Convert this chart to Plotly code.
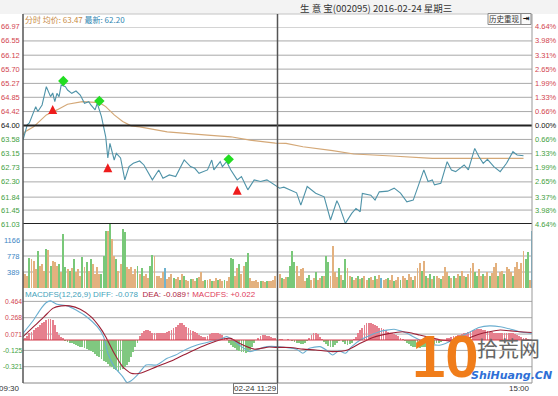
import plotly.graph_objects as go

# ---------------- data ----------------
title_text = "生 意 宝(002095) 2016-02-24 星期三"
prev_close = 64.00
avg_now, last_now = 63.47, 62.20
diff_now, dea_now, macd_now = -0.078, -0.089, 0.022
cross_i = 120
cross_label = "02-24 11:29"

price_labels = ["66.97", "66.55", "66.12", "65.70", "65.27", "64.85", "64.42", "64.00",
                "63.58", "63.15", "62.73", "62.30", "61.84", "61.45", "61.03"]
pct_labels = ["4.64%", "3.98%", "3.31%", "2.65%", "1.99%", "1.33%", "0.66%", "0.00%",
              "0.66%", "1.33%", "1.99%", "2.65%", "3.37%", "3.98%", "4.64%"]
vol_ticks = [389, 778, 1166]
macd_ticks = [0.464, 0.268, 0.071, -0.125, -0.321]

# minute slot index (0 = 09:30, 240 = 15:00) and price
price_t = [0, 2, 3, 6, 7, 9, 11, 12, 13, 14, 15, 16, 17, 18, 20, 21, 23, 25, 27, 29, 31, 32, 34, 35,
           37, 39, 40, 41, 43, 44, 46, 48, 50, 52, 55, 57, 61, 64, 66, 69, 72, 76, 79, 81, 83, 87,
           89, 90, 93, 94, 96, 98, 101, 103, 106, 109, 112, 115, 119, 121, 123, 126, 129, 131,
           134, 138, 142, 145, 148, 149, 152, 155, 157, 159, 160, 164, 166, 168, 172, 175, 178,
           181, 184, 186, 189, 191, 193, 194, 197, 200, 202, 204, 208, 210, 213, 215, 217, 219,
           222, 225, 228, 231, 233, 236]
price = [63.56, 64.02, 64.08, 64.57, 64.42, 64.62, 65.17, 65.02, 64.87, 64.98, 64.72, 64.97, 64.87,
         65.22, 65.17, 65.07, 64.97, 65.04, 64.92, 64.67, 64.72, 64.62, 64.47, 64.67, 64.27, 63.66,
         63.02, 63.46, 62.96, 63.16, 63.02, 62.36, 62.76, 62.86, 62.93, 62.81, 62.36, 62.66, 62.41,
         62.51, 62.46, 62.96, 62.76, 62.71, 62.56, 62.66, 62.96, 62.66, 62.91, 62.76, 62.91, 62.66,
         62.36, 62.46, 62.06, 62.36, 62.31, 62.36, 62.20, 62.11, 62.14, 62.06, 61.97, 61.60, 62.16,
         61.96, 61.85, 61.15, 61.73, 61.60, 61.05, 61.35, 61.50, 61.40, 61.95, 61.90, 61.75, 62.00,
         62.02, 62.11, 61.96, 61.70, 61.75, 62.11, 62.66, 62.31, 62.36, 62.21, 62.26, 62.91, 62.66,
         62.61, 62.81, 62.66, 63.31, 63.06, 62.86, 62.98, 62.76, 62.61, 62.86, 63.21, 63.11, 63.09]

avg_t = [0, 1, 5, 11, 16, 21, 28, 36, 39, 43, 47, 51, 55, 68, 87, 98, 107, 119, 124, 132, 146, 156,
         174, 193, 236]
avg = [63.72, 63.81, 63.96, 64.32, 64.47, 64.64, 64.72, 64.69, 64.57, 64.32, 64.12, 63.99, 63.96,
       63.81, 63.71, 63.66, 63.56, 63.47, 63.46, 63.36, 63.24, 63.14, 63.08, 63.01, 63.01]

buy_t = [14, 40, 101]
buy_p = [64.62, 62.86, 62.18]
sell_t = [19, 36, 97]
sell_p = [65.34, 64.74, 62.98]

vol = [389, 340, 300, 720, 705, 660, 450, 905, 540, 585,
       420, 950, 930, 540, 660, 625, 540, 585, 380, 1310,
       500, 460, 420, 480, 705, 380, 460, 300, 745, 500,
       625, 420, 705, 585, 350, 500, 340, 340, 785, 1390,
       1390, 1555, 1190, 785, 705, 420, 585, 1435, 1350, 500,
       460, 500, 340, 460, 540, 340, 485, 300, 340, 250,
       540, 800, 770, 280, 300, 240, 390, 485, 230, 265,
       340, 250, 220, 265, 200, 340, 290, 200, 180, 230,
       220, 180, 250, 265, 395, 180, 200, 200, 220, 180,
       180, 240, 200, 220, 160, 200, 180, 265, 720, 705,
       300, 485, 585, 340, 540, 625, 840, 250, 180, 160,
       200, 145, 180, 160, 145, 170, 180, 160, 200, 300,
       200, 340, 250, 220, 265, 265, 540, 905, 625, 540,
       300, 460, 485, 180, 250, 320, 200, 240, 400, 200,
       240, 300, 300, 785, 625, 300, 1030, 400, 265, 485,
       320, 200, 705, 485, 300, 265, 200, 240, 280, 220,
       240, 300, 200, 240, 265, 200, 280, 220, 320, 240,
       200, 220, 240, 200, 320, 180, 200, 265, 200, 300,
       240, 200, 340, 265, 200, 300, 480, 600, 420, 650,
       300, 250, 340, 220, 280, 300, 240, 220, 300, 520,
       400, 280, 240, 300, 250, 340, 280, 420, 300, 260,
       340, 480, 600, 380, 300, 450, 300, 340, 280, 400,
       300, 360, 500, 620, 300, 380, 420, 350, 520, 460,
       389, 300, 500, 640, 450, 600, 900, 700, 880, 200,
       1385]
vol_dir = ("uuuduuuduu" "ududuuudud" "dududuuudu" "duduuuuddd" "uduuduuddu"
           "uuuududuuu" "dduuuuubuu" "uduududuud" "uuduuuduud" "uuduuduudd"
           "uuduudduuu" "uuduuduuuu" "duduuddddu" "uuuudduudu" "ududduuuud"
           "udduuduudu" "duuduuduub" "uuduuduudu" "uduuduuudu" "dududuuduu"
           "ududuuduud" "uuudduuduu" "duuuduuduu" "uduuuuuddu" "b")

diff_t = [0, 5, 8, 11, 13, 16, 21, 25, 30, 35, 38, 40, 43, 47, 49, 51, 54, 58, 63, 68, 72, 77,
          82, 88, 93, 96, 99, 103, 107, 111, 115, 119, 124, 129, 132, 135, 140, 143, 146, 149,
          152, 155, 159, 164, 168, 175, 178, 181, 187, 192, 197, 201, 206, 211, 215, 220, 225,
          230, 234, 240]
diff = [0.08, 0.24, 0.36, 0.45, 0.47, 0.43, 0.41, 0.36, 0.28, 0.16, 0.04, -0.16, -0.32, -0.44,
        -0.51, -0.49, -0.42, -0.30, -0.30, -0.22, -0.18, -0.11, -0.06, -0.02, 0.01, 0.04, 0.00,
        -0.08, -0.14, -0.11, -0.08, -0.078, -0.09, -0.11, -0.16, -0.10, -0.08, -0.12, -0.18,
        -0.13, -0.16, -0.08, 0.00, 0.06, 0.10, 0.13, 0.11, 0.08, 0.00, -0.05, -0.06, -0.02,
        0.04, 0.10, 0.15, 0.17, 0.16, 0.13, 0.10, 0.08]
dea_t = [0, 5, 10, 14, 18, 22, 27, 32, 36, 39, 43, 47, 51, 55, 63, 71, 79, 87, 94, 98, 102, 109,
         116, 119, 126, 132, 138, 146, 153, 159, 165, 173, 179, 182, 187, 192, 197, 201, 206,
         211, 215, 220, 225, 230, 234, 240]
dea = [0.04, 0.16, 0.28, 0.38, 0.41, 0.41, 0.37, 0.28, 0.16, 0.04, -0.16, -0.32, -0.40, -0.40,
       -0.32, -0.24, -0.14, -0.05, 0.01, 0.02, -0.04, -0.11, -0.085, -0.089, -0.09, -0.11,
       -0.12, -0.14, -0.12, -0.04, 0.03, 0.08, 0.10, 0.09, 0.06, 0.03, 0.00, -0.01, 0.00, 0.03,
       0.07, 0.10, 0.12, 0.11, 0.10, 0.09]
hist = [0.01, 0.03, 0.05, 0.08, 0.10, 0.12, 0.14, 0.16, 0.18, 0.20,
        0.22, 0.24, 0.25, 0.25, 0.24, 0.18, 0.10, 0.06, 0.04, 0.03,
        -0.01, -0.02, -0.03, -0.04, -0.05, -0.06, -0.07, -0.08, -0.09, -0.10, -0.11,
        -0.12, -0.13, -0.15, -0.17, -0.19, -0.21, -0.23, -0.25, -0.27, -0.29, -0.31, -0.33,
        -0.35, -0.36, -0.37, -0.36, -0.35, -0.33, -0.30, -0.26, -0.21, -0.15, -0.09,
        -0.03,
        0.05, 0.09, 0.11, 0.12, 0.12, 0.11,
        0.09, 0.08, 0.08, 0.09, 0.08, 0.08, 0.09, 0.10, 0.11, 0.12, 0.14,
        0.16, 0.18, 0.20, 0.20, 0.18, 0.16,
        0.14, 0.12, 0.11, 0.10, 0.08,
        0.06, 0.05, 0.04, 0.04, 0.05,
        0.07, 0.08, 0.08, 0.09, 0.08, 0.07, 0.06,
        0.03, 0.01,
        -0.03, -0.06, -0.08, -0.10, -0.12, -0.13, -0.14, -0.15, -0.16, -0.15, -0.12, -0.08,
        -0.04, 0.00,
        0.03, 0.05, 0.06, 0.06, 0.05, 0.05, 0.04, 0.03,
        0.022,
        0.02, 0.01, 0.01, 0.00, 0.00, 0.01, 0.00, -0.01, -0.02, -0.03,
        -0.04, -0.05, -0.05, -0.03, -0.01,
        0.03, 0.06, 0.08, 0.08, 0.07, 0.04,
        0.01, -0.02, -0.05,
        -0.07, -0.08, -0.08, -0.06, -0.03,
        -0.01, 0.00, -0.02,
        -0.05, -0.06, -0.05, -0.03,
        0.01,
        0.04, 0.08, 0.12, 0.15, 0.18, 0.20, 0.21, 0.20, 0.19, 0.18, 0.17, 0.15, 0.14, 0.13,
        0.12, 0.10, 0.09, 0.08, 0.07, 0.06, 0.05, 0.03,
        0.01, -0.01,
        -0.03, -0.05, -0.07, -0.08, -0.09, -0.10, -0.10, -0.09, -0.08, -0.08, -0.07, -0.06,
        -0.06, -0.05, -0.04, -0.03, -0.02, -0.01, 0.00,
        0.02, 0.03, 0.04, 0.05, 0.05, 0.06, 0.06, 0.07, 0.08, 0.09, 0.10, 0.11, 0.12, 0.12,
        0.13, 0.13,
        0.13, 0.12, 0.12, 0.11, 0.10, 0.10, 0.09, 0.09, 0.08, 0.08, 0.08, 0.09, 0.09, 0.08,
        0.08, 0.08, 0.07, 0.06, 0.05, 0.04, 0.03, 0.02, 0.01, 0.00, -0.01]

# ---------------- layout geometry (pixels) ----------------
W, H = 558, 396
L, R, T, B = 23, 532, 14, 383


def px_x(x):
    return (x - L) / (R - L)


def px_y(y):
    return (B - y) / (B - T)


price_dom = [px_y(224), px_y(27)]
vol_dom = [px_y(288), px_y(224)]
macd_dom = [0, px_y(298)]
vol_max = vol_ticks[0] * (288 - 224) / 16.0
macd_scale = 83.2  # px per unit
macd_rng = [-(383 - 340) / macd_scale, (340 - 298) / macd_scale]

RED_T, GRN_T = "#d2454f", "#3f9f3f"
FONT = "Arial, Liberation Sans, sans-serif"
CJK = "Noto Sans CJK SC"

fig = go.Figure()

vcol = {"u": "#e3b17f", "d": "#79c879", "b": "#6fb3cf"}
fig.add_trace(go.Bar(x=list(range(len(vol))), y=vol, yaxis="y2", width=0.45,
                     marker=dict(color=[vcol[c] for c in vol_dir], line=dict(width=0)),
                     hoverinfo="skip"))
fig.add_trace(go.Bar(x=list(range(len(hist))), y=hist, yaxis="y3", width=0.4,
                     marker=dict(color=["#e6808e" if v >= 0 else "#80c880" for v in hist],
                                 line=dict(width=0)),
                     hoverinfo="skip"))
fig.add_trace(go.Scatter(x=avg_t, y=avg, mode="lines", line=dict(color="#d4a877", width=1.2)))
fig.add_trace(go.Scatter(x=price_t, y=price, mode="lines", line=dict(color="#4f93a8", width=1.1)))
fig.add_trace(go.Scatter(x=buy_t, y=buy_p, mode="markers",
                         marker=dict(symbol="arrow-up", size=9, color="#ee1c1c",
                                     line=dict(width=0))))
fig.add_trace(go.Scatter(x=sell_t, y=sell_p, mode="markers",
                         marker=dict(symbol="diamond", size=8, color="#22dd22",
                                     line=dict(width=0))))
fig.add_trace(go.Scatter(x=diff_t, y=diff, yaxis="y3", mode="lines",
                         line=dict(color="#6aaed0", width=1.1, shape="spline", smoothing=0.6)))
fig.add_trace(go.Scatter(x=dea_t, y=dea, yaxis="y3", mode="lines",
                         line=dict(color="#9c1f35", width=1.1, shape="spline", smoothing=0.6)))

shapes = []
shapes.append(dict(type="rect", xref="paper", yref="paper", x0=px_x(0), x1=px_x(W),
                   y0=px_y(T), y1=px_y(0), fillcolor="#f3f3f3", line=dict(width=0), layer="below"))
for lab in price_labels:
    v = float(lab)
    thick = lab in ("64.00", "61.03")
    shapes.append(dict(type="line", xref="paper", yref="y", x0=0, x1=1, y0=v, y1=v,
                       line=dict(color="#222" if thick else "#a9a9a9", width=2 if thick else 1),
                       layer="below" if not thick else "above"))
for v in vol_ticks:
    shapes.append(dict(type="line", xref="paper", yref="y2", x0=0, x1=1, y0=v, y1=v,
                       line=dict(color="#a9a9a9", width=1), layer="below"))
for v in macd_ticks:
    shapes.append(dict(type="line", xref="paper", yref="y3", x0=0, x1=1, y0=v, y1=v,
                       line=dict(color="#a9a9a9", width=1), layer="below"))
shapes.append(dict(type="line", xref="paper", yref="y3", x0=0, x1=1, y0=0, y1=0,
                   line=dict(color="#d23a4a", width=1)))
shapes.append(dict(type="line", xref="paper", yref="paper", x0=0, x1=1, y0=px_y(T), y1=px_y(T),
                   line=dict(color="#c4c4c4", width=1)))
shapes.append(dict(type="line", xref="paper", yref="paper", x0=0, x1=1, y0=0, y1=0,
                   line=dict(color="#888", width=1)))
shapes.append(dict(type="line", xref="paper", yref="paper", x0=0, x1=0, y0=0, y1=px_y(T),
                   line=dict(color="#555", width=1.5)))
shapes.append(dict(type="line", xref="paper", yref="paper", x0=1, x1=1, y0=0, y1=px_y(T),
                   line=dict(color="#999", width=1)))
shapes.append(dict(type="line", xref="x", yref="paper", x0=cross_i, x1=cross_i, y0=0,
                   y1=px_y(T), line=dict(color="#555", width=1.5)))
shapes.append(dict(type="rect", xref="paper", yref="paper", x0=px_x(488), x1=px_x(521),
                   y0=px_y(24.5), y1=px_y(13.5), fillcolor="#fafafa",
                   line=dict(color="#8a8a8a", width=1)))
shapes.append(dict(type="rect", xref="paper", yref="paper", x0=px_x(521), x1=px_x(531),
                   y0=px_y(24.5), y1=px_y(13.5), fillcolor="#fafafa",
                   line=dict(color="#8a8a8a", width=1)))

ann = []


def add_text(x, y, text, size, color="#333", family=FONT, xa="center", ya="middle", **kw):
    ann.append(dict(xref="paper", yref="paper", x=px_x(x), y=px_y(y), text=text,
                    showarrow=False, xanchor=xa, yanchor=ya,
                    font=dict(size=size, color=color, family=family), **kw))


base = float(price_labels[7])
for lab, pl in zip(price_labels, pct_labels):
    v = float(lab)
    col = "#111" if lab == "64.00" else (RED_T if v > base else GRN_T)
    ann.append(dict(xref="paper", yref="y", x=0, y=v, text=lab, showarrow=False, xanchor="right",
                    yanchor="middle", xshift=-1, font=dict(size=7.5, color=col, family=FONT)))
    ann.append(dict(xref="paper", yref="y", x=1, y=v, text=pl, showarrow=False, xanchor="left",
                    yanchor="middle", xshift=1, font=dict(size=7.5, color=col, family=FONT)))
for v in vol_ticks:
    ann.append(dict(xref="paper", yref="y2", x=0, y=v, text=str(v), showarrow=False,
                    xanchor="right", yanchor="middle", xshift=-1,
                    font=dict(size=7.5, color="#3d86c4", family=FONT)))
for v in macd_ticks:
    ann.append(dict(xref="paper", yref="y3", x=0, y=v, text=f"{v:.3f}", showarrow=False,
                    xanchor="right", yanchor="middle", xshift=0, borderpad=0,
                    font=dict(size=6.8, color=RED_T if v > 0 else GRN_T, family=FONT)))

add_text(376, 8, title_text, 9.5, "#333", CJK)
add_text(504.5, 19, "历史重现", 7.5, "#333", CJK)
add_text(526, 19, "<b>⇥</b>", 8, "#111", "DejaVu Sans")
add_text(23, 20, f'<span style="color:#c98b45">分时 均价: {avg_now:.2f}</span> '
                 f'<span style="color:#2f86b2">最新: {last_now:.2f}</span>', 8, family=CJK, xa="left")
add_text(23, 294, f'<span style="color:#45a3bb">MACDFS(12,26,9) DIFF: {diff_now:.3f}</span>  '
                  f'<span style="color:#b0283f">DEA: {dea_now:.3f}↑</span> '
                  f'<span style="color:#e0405c">MACDFS: +{macd_now:.3f}</span>', 8, xa="left")
add_text(22, 388.5, "09:30", 8, "#333", xa="right")
add_text(532, 388.5, "15:00", 8, "#333", xa="right")
ann.append(dict(xref="x", yref="paper", x=cross_i, y=px_y(383), xanchor="right", yanchor="top",
                text=cross_label, showarrow=False, bgcolor="white", bordercolor="#777",
                borderwidth=1, borderpad=0, font=dict(size=8, color="#333", family=FONT)))
# watermark
add_text(445, 356, "<b>10</b>", 60, "#f07d1a", "Liberation Sans Narrow, Liberation Sans")
add_text(508, 347, "拾荒网", 21, "#666", CJK)
add_text(511, 375, "<b><i>ShiHuang.CN</i></b>", 11, "#2e6fd6", "DejaVu Sans")

fig.update_layout(
    width=W, height=H, margin=dict(l=L, r=W - R, t=T, b=H - B),
    paper_bgcolor="white", plot_bgcolor="rgba(0,0,0,0)", showlegend=False,
    bargap=0,
    xaxis=dict(range=[0, 240], visible=False, fixedrange=True),
    yaxis=dict(domain=price_dom, range=[float(price_labels[-1]), float(price_labels[0])],
               visible=False, fixedrange=True),
    yaxis2=dict(domain=vol_dom, range=[0, vol_max], visible=False, fixedrange=True),
    yaxis3=dict(domain=macd_dom, range=macd_rng, visible=False, fixedrange=True),
    shapes=shapes, annotations=ann,
)
fig.write_html("out.html", config={"displayModeBar": False},
               post_script="document.body.style.margin='0';")
